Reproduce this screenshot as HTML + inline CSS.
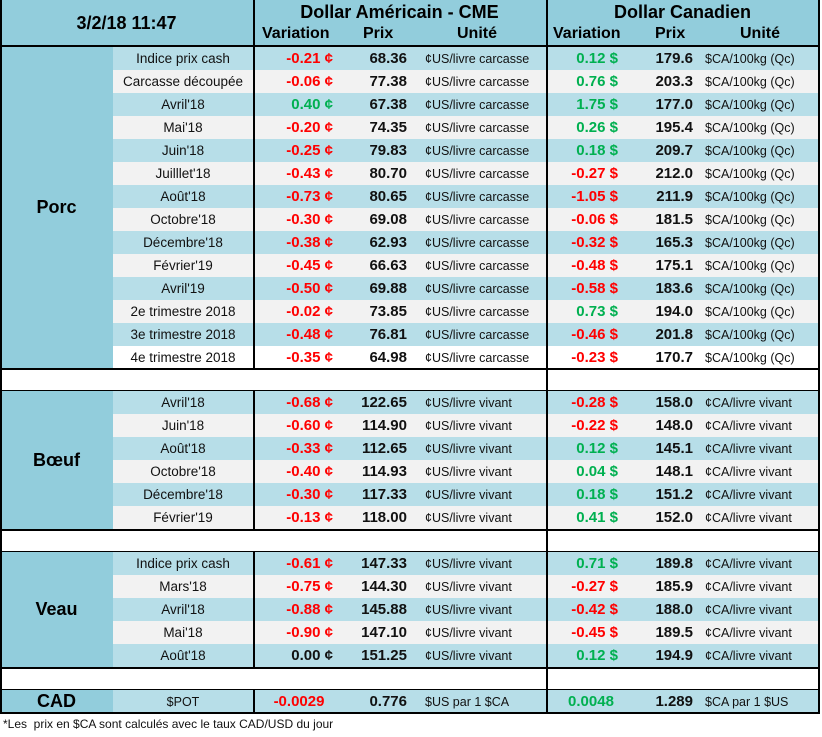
<!DOCTYPE html><html><head><meta charset="utf-8"><style>
body{margin:0;width:822px;height:737px;background:#fff;font-family:"Liberation Sans",sans-serif;position:relative;overflow:hidden}
.a{position:absolute}
.hd{background:#92CDDC;font-weight:bold;color:#111}
.r{position:absolute;left:113px;width:706px;height:23px;display:flex;align-items:center;font-size:13px;color:#111}
.b{background:#B7DEE8}.w{background:#F2F2F2}
.r span{display:block;white-space:nowrap;overflow:hidden}
.s{width:140px;text-align:center;font-size:13.5px}
.v{width:80px;padding-right:12px;text-align:right;font-weight:bold;font-size:15px}
.p{width:62px;padding-right:13px;text-align:right;font-weight:bold;font-size:15px}
.u{width:121px;padding-left:5px;font-size:12.5px}
.cv{width:72px;padding-right:18px;text-align:right;font-weight:bold;font-size:15px}
.cp{width:57px;padding-right:7px;text-align:right;font-weight:bold;font-size:15px}
.cu{width:114px;padding-left:5px;font-size:12.5px}
.R{color:#FF0000}.G{color:#00B050}.K{color:#111}
.lab{position:absolute;left:0;width:113px;background:#92CDDC;font-weight:bold;font-size:18px;display:flex;align-items:center;justify-content:center}
.vl{position:absolute;width:1.5px;background:#000}
.hl{position:absolute;left:0;width:820px;background:#000}
</style></head><body>
<div class="a hd" style="left:0;top:0;width:820px;height:46px"></div>
<div class="a" style="left:0;top:0;width:253px;height:46px;display:flex;align-items:center;justify-content:center;font-weight:bold;font-size:18px">3/2/18 11:47</div>
<div class="a" style="left:253px;top:2px;width:293px;text-align:center;font-weight:bold;font-size:18px">Dollar Américain - CME</div>
<div class="a" style="left:546px;top:2px;width:273px;text-align:center;font-weight:bold;font-size:18px">Dollar Canadien</div>
<div class="a" style="left:262px;top:25px;font-weight:bold;font-size:16px">Variation</div>
<div class="a" style="left:363px;top:25px;font-weight:bold;font-size:16px">Prix</div>
<div class="a" style="left:457px;top:25px;font-weight:bold;font-size:16px">Unité</div>
<div class="a" style="left:553px;top:25px;font-weight:bold;font-size:16px">Variation</div>
<div class="a" style="left:655px;top:25px;font-weight:bold;font-size:16px">Prix</div>
<div class="a" style="left:740px;top:25px;font-weight:bold;font-size:16px">Unité</div>

<div class="lab" style="top:47px;height:321px">Porc</div>
<div class="r b" style="top:47px"><span class="s">Indice prix cash</span><span class="v R">-0.21 ¢</span><span class="p">68.36</span><span class="u">¢US/livre carcasse</span><span class="cv G">0.12 $</span><span class="cp">179.6</span><span class="cu">$CA/100kg (Qc)</span></div>
<div class="r w" style="top:70px"><span class="s">Carcasse découpée</span><span class="v R">-0.06 ¢</span><span class="p">77.38</span><span class="u">¢US/livre carcasse</span><span class="cv G">0.76 $</span><span class="cp">203.3</span><span class="cu">$CA/100kg (Qc)</span></div>
<div class="r b" style="top:93px"><span class="s">Avril'18</span><span class="v G">0.40 ¢</span><span class="p">67.38</span><span class="u">¢US/livre carcasse</span><span class="cv G">1.75 $</span><span class="cp">177.0</span><span class="cu">$CA/100kg (Qc)</span></div>
<div class="r w" style="top:116px"><span class="s">Mai'18</span><span class="v R">-0.20 ¢</span><span class="p">74.35</span><span class="u">¢US/livre carcasse</span><span class="cv G">0.26 $</span><span class="cp">195.4</span><span class="cu">$CA/100kg (Qc)</span></div>
<div class="r b" style="top:139px"><span class="s">Juin'18</span><span class="v R">-0.25 ¢</span><span class="p">79.83</span><span class="u">¢US/livre carcasse</span><span class="cv G">0.18 $</span><span class="cp">209.7</span><span class="cu">$CA/100kg (Qc)</span></div>
<div class="r w" style="top:162px"><span class="s">Juilllet'18</span><span class="v R">-0.43 ¢</span><span class="p">80.70</span><span class="u">¢US/livre carcasse</span><span class="cv R">-0.27 $</span><span class="cp">212.0</span><span class="cu">$CA/100kg (Qc)</span></div>
<div class="r b" style="top:185px"><span class="s">Août'18</span><span class="v R">-0.73 ¢</span><span class="p">80.65</span><span class="u">¢US/livre carcasse</span><span class="cv R">-1.05 $</span><span class="cp">211.9</span><span class="cu">$CA/100kg (Qc)</span></div>
<div class="r w" style="top:208px"><span class="s">Octobre'18</span><span class="v R">-0.30 ¢</span><span class="p">69.08</span><span class="u">¢US/livre carcasse</span><span class="cv R">-0.06 $</span><span class="cp">181.5</span><span class="cu">$CA/100kg (Qc)</span></div>
<div class="r b" style="top:231px"><span class="s">Décembre'18</span><span class="v R">-0.38 ¢</span><span class="p">62.93</span><span class="u">¢US/livre carcasse</span><span class="cv R">-0.32 $</span><span class="cp">165.3</span><span class="cu">$CA/100kg (Qc)</span></div>
<div class="r w" style="top:254px"><span class="s">Février'19</span><span class="v R">-0.45 ¢</span><span class="p">66.63</span><span class="u">¢US/livre carcasse</span><span class="cv R">-0.48 $</span><span class="cp">175.1</span><span class="cu">$CA/100kg (Qc)</span></div>
<div class="r b" style="top:277px"><span class="s">Avril'19</span><span class="v R">-0.50 ¢</span><span class="p">69.88</span><span class="u">¢US/livre carcasse</span><span class="cv R">-0.58 $</span><span class="cp">183.6</span><span class="cu">$CA/100kg (Qc)</span></div>
<div class="r w" style="top:300px"><span class="s">2e trimestre 2018</span><span class="v R">-0.02 ¢</span><span class="p">73.85</span><span class="u">¢US/livre carcasse</span><span class="cv G">0.73 $</span><span class="cp">194.0</span><span class="cu">$CA/100kg (Qc)</span></div>
<div class="r b" style="top:323px"><span class="s">3e trimestre 2018</span><span class="v R">-0.48 ¢</span><span class="p">76.81</span><span class="u">¢US/livre carcasse</span><span class="cv R">-0.46 $</span><span class="cp">201.8</span><span class="cu">$CA/100kg (Qc)</span></div>
<div class="r" style="top:346px;background:#fff"><span class="s">4e trimestre 2018</span><span class="v R">-0.35 ¢</span><span class="p">64.98</span><span class="u">¢US/livre carcasse</span><span class="cv R">-0.23 $</span><span class="cp">170.7</span><span class="cu">$CA/100kg (Qc)</span></div>

<div class="lab" style="top:391px;height:138px">Bœuf</div>
<div class="r b" style="top:391px"><span class="s">Avril'18</span><span class="v R">-0.68 ¢</span><span class="p">122.65</span><span class="u">¢US/livre vivant</span><span class="cv R">-0.28 $</span><span class="cp">158.0</span><span class="cu">¢CA/livre vivant</span></div>
<div class="r w" style="top:414px"><span class="s">Juin'18</span><span class="v R">-0.60 ¢</span><span class="p">114.90</span><span class="u">¢US/livre vivant</span><span class="cv R">-0.22 $</span><span class="cp">148.0</span><span class="cu">¢CA/livre vivant</span></div>
<div class="r b" style="top:437px"><span class="s">Août'18</span><span class="v R">-0.33 ¢</span><span class="p">112.65</span><span class="u">¢US/livre vivant</span><span class="cv G">0.12 $</span><span class="cp">145.1</span><span class="cu">¢CA/livre vivant</span></div>
<div class="r w" style="top:460px"><span class="s">Octobre'18</span><span class="v R">-0.40 ¢</span><span class="p">114.93</span><span class="u">¢US/livre vivant</span><span class="cv G">0.04 $</span><span class="cp">148.1</span><span class="cu">¢CA/livre vivant</span></div>
<div class="r b" style="top:483px"><span class="s">Décembre'18</span><span class="v R">-0.30 ¢</span><span class="p">117.33</span><span class="u">¢US/livre vivant</span><span class="cv G">0.18 $</span><span class="cp">151.2</span><span class="cu">¢CA/livre vivant</span></div>
<div class="r w" style="top:506px"><span class="s">Février'19</span><span class="v R">-0.13 ¢</span><span class="p">118.00</span><span class="u">¢US/livre vivant</span><span class="cv G">0.41 $</span><span class="cp">152.0</span><span class="cu">¢CA/livre vivant</span></div>

<div class="lab" style="top:552px;height:115px">Veau</div>
<div class="r b" style="top:552px"><span class="s">Indice prix cash</span><span class="v R">-0.61 ¢</span><span class="p">147.33</span><span class="u">¢US/livre vivant</span><span class="cv G">0.71 $</span><span class="cp">189.8</span><span class="cu">¢CA/livre vivant</span></div>
<div class="r w" style="top:575px"><span class="s">Mars'18</span><span class="v R">-0.75 ¢</span><span class="p">144.30</span><span class="u">¢US/livre vivant</span><span class="cv R">-0.27 $</span><span class="cp">185.9</span><span class="cu">¢CA/livre vivant</span></div>
<div class="r b" style="top:598px"><span class="s">Avril'18</span><span class="v R">-0.88 ¢</span><span class="p">145.88</span><span class="u">¢US/livre vivant</span><span class="cv R">-0.42 $</span><span class="cp">188.0</span><span class="cu">¢CA/livre vivant</span></div>
<div class="r w" style="top:621px"><span class="s">Mai'18</span><span class="v R">-0.90 ¢</span><span class="p">147.10</span><span class="u">¢US/livre vivant</span><span class="cv R">-0.45 $</span><span class="cp">189.5</span><span class="cu">¢CA/livre vivant</span></div>
<div class="r b" style="top:644px"><span class="s">Août'18</span><span class="v K">0.00 ¢</span><span class="p">151.25</span><span class="u">¢US/livre vivant</span><span class="cv G">0.12 $</span><span class="cp">194.9</span><span class="cu">¢CA/livre vivant</span></div>

<div class="lab" style="top:690px;height:23px">CAD</div>
<div class="r b" style="top:690px"><span class="s" style="font-size:12.5px">$POT</span><span class="v R" style="text-align:center;padding-right:0;width:92px">-0.0029</span><span class="p">0.776</span><span class="u">$US par 1 $CA</span><span class="cv G" style="text-align:center;padding-right:0;width:90px">0.0048</span><span class="cp">1.289</span><span class="cu">$CA par 1 $US</span></div>

<div class="hl" style="top:45px;height:2px"></div>
<div class="hl" style="top:368px;height:2px"></div>
<div class="hl" style="top:390px;height:1px"></div>
<div class="hl" style="top:529px;height:2px"></div>
<div class="hl" style="top:551px;height:1px"></div>
<div class="hl" style="top:667px;height:2px"></div>
<div class="hl" style="top:689px;height:1px"></div>
<div class="hl" style="top:712px;height:2px"></div>
<div class="vl" style="left:0;top:0;height:714px"></div>
<div class="vl" style="left:818px;top:0;height:714px;width:2px"></div>
<div class="vl" style="left:253px;top:0;height:368px"></div>
<div class="vl" style="left:253px;top:391px;height:138px"></div>
<div class="vl" style="left:253px;top:552px;height:115px"></div>
<div class="vl" style="left:253px;top:690px;height:23px"></div>
<div class="vl" style="left:546px;top:0;height:714px"></div>

<div class="a" style="left:3px;top:717px;font-size:12px;color:#111">*Les&nbsp; prix en $CA sont calculés avec le taux CAD/USD du jour</div>
</body></html>
